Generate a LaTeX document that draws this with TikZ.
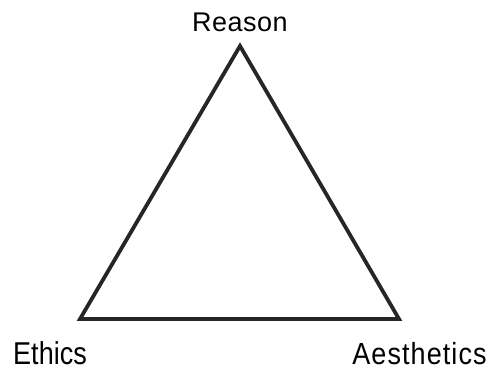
\documentclass[tikz,border=0pt]{standalone}
\usepackage{fontspec}
\setmainfont{Liberation Sans}
\newfontfamily\spacedfont[LetterSpace=4]{Liberation Sans}
\begin{document}
\begin{tikzpicture}[x=1pt,y=-1pt,
  lab/.style={inner sep=0pt,font=\fontsize{27}{27}\selectfont,anchor=base},
  edge/.style={draw=black!85,line width=3.8pt,line join=miter}]
\useasboundingbox (0,0) rectangle (489,368);
\coordinate (r) at (240,46);
\coordinate (e) at (80,319);
\coordinate (a) at (399,319);
\draw[edge] (r) -- (e) -- (a) -- cycle;
\node[lab] (reason) at (240,31) {R\kern0.5pt e\kern0.5pt a\kern0.5pt s\kern0.5pt o\kern0.5pt n};
\node[lab] (ethics) at (50,364.5) {\scalebox{1}[1.17]{Ethics}};
\node[lab] (aesthetics) at (419.5,364.5) {\scalebox{1}[1.13]{\spacedfont Aesthetics}};
\end{tikzpicture}
\end{document}
